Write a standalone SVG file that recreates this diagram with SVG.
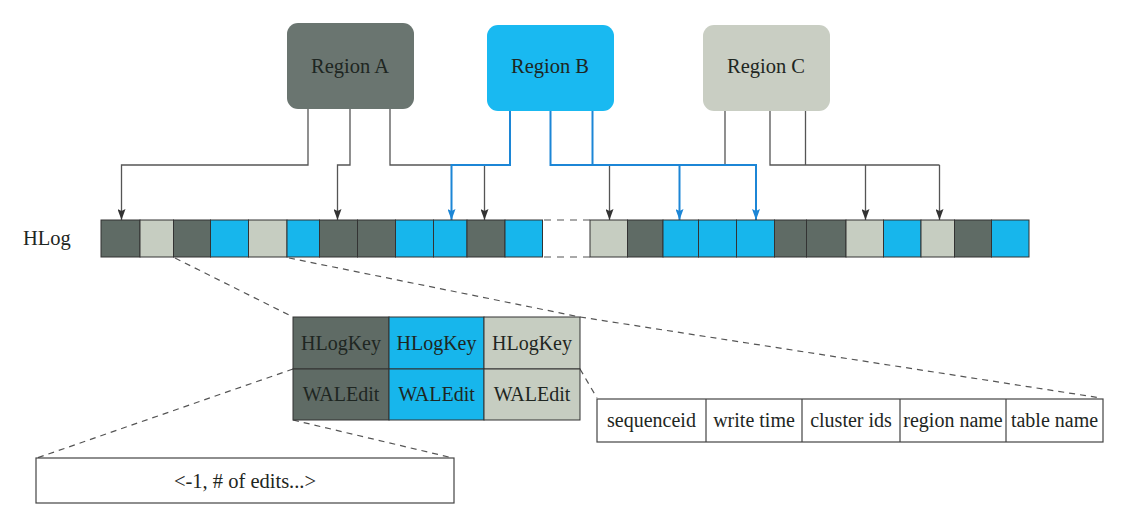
<svg xmlns="http://www.w3.org/2000/svg" width="1128" height="522" viewBox="0 0 1128 522">
<style>
text{font-family:"Liberation Serif","Times New Roman",serif;font-size:20px;fill:#1e2622}
.c{text-anchor:middle}
.big{font-size:20.5px}
.D{fill:#5f6b65}
.L{fill:#c6cdc1}
.B{fill:#17b6ec}
.cell{stroke:#333;stroke-width:1}
.g{fill:none;stroke:#555;stroke-width:1.3}
.b{fill:none;stroke:#1c86d6;stroke-width:2}
.dash{fill:none;stroke:#555;stroke-width:1.2;stroke-dasharray:6 5}
.box{fill:#fff;stroke:#444;stroke-width:1.2}
</style>
<defs>
<marker id="ab" markerUnits="userSpaceOnUse" markerWidth="8" markerHeight="12" refX="4" refY="11" viewBox="0 0 8 12"><path d="M0,0 L4,2 L8,0 L4,11 Z" fill="#1c86d6"/></marker>
<marker id="agd" markerUnits="userSpaceOnUse" markerWidth="8" markerHeight="12" refX="4" refY="11" viewBox="0 0 8 12"><path d="M0,0 L4,2 L8,0 L4,11 Z" fill="#333"/></marker>
</defs>

<g id="regionA"><rect x="287" y="23" width="127" height="86" rx="11" style="fill:#6a7570"/><text x="350" y="73" class="c big">Region A</text></g>
<g id="regionB"><rect x="487" y="25" width="127" height="86" rx="11" style="fill:#19b9f1"/><text x="550" y="73" class="c big">Region B</text></g>
<g id="regionC"><rect x="703" y="25" width="127" height="86" rx="11" style="fill:#c9cec3"/><text x="766" y="73" class="c big">Region C</text></g>

<g id="connectors">
<path class="g" d="M308,109 V165 H121.5 V220" marker-end="url(#agd)"/>
<path class="g" d="M350,109 V165 H337.5 V220" marker-end="url(#agd)"/>
<path class="g" d="M390,109 V165 H484.5 V220" marker-end="url(#agd)"/>
<path class="g" d="M725,111 V165 H609.5 V220" marker-end="url(#agd)"/>
<path class="g" d="M770,111 V165 H939.5"/>
<path class="g" d="M805.5,111 V165"/>
<path class="g" d="M865.5,165 V220" marker-end="url(#agd)"/>
<path class="g" d="M939.5,165 V220" marker-end="url(#agd)"/>
<path class="b" d="M510,111 V165 H451.5 V220" marker-end="url(#ab)"/>
<path class="b" d="M550.5,111 V165 H756 V220" marker-end="url(#ab)"/>
<path class="b" d="M592.5,111 V165"/>
<path class="b" d="M679.5,165 V220" marker-end="url(#ab)"/>
</g>

<g id="hlog">
<text x="23" y="245" class="big">HLog</text>
<g class="cell">
<rect x="101" y="220" width="39" height="37" class="D"/>
<rect x="140" y="220" width="33.5" height="37" class="L"/>
<rect x="173.5" y="220" width="37" height="37" class="D"/>
<rect x="210.5" y="220" width="38" height="37" class="B"/>
<rect x="248.5" y="220" width="38.5" height="37" class="L"/>
<rect x="287" y="220" width="32.5" height="37" class="B"/>
<rect x="319.5" y="220" width="38" height="37" class="D"/>
<rect x="357.5" y="220" width="38" height="37" class="D"/>
<rect x="395.5" y="220" width="38" height="37" class="B"/>
<rect x="433.5" y="220" width="33.5" height="37" class="B"/>
<rect x="467" y="220" width="38" height="37" class="D"/>
<rect x="505" y="220" width="37.5" height="37" class="B"/>
<rect x="590" y="220" width="37.5" height="37" class="L"/>
<rect x="627.5" y="220" width="35.5" height="37" class="D"/>
<rect x="663" y="220" width="35.5" height="37" class="B"/>
<rect x="698.5" y="220" width="38" height="37" class="B"/>
<rect x="736.5" y="220" width="38" height="37" class="B"/>
<rect x="774.5" y="220" width="32" height="37" class="D"/>
<rect x="806.5" y="220" width="39.5" height="37" class="D"/>
<rect x="846" y="220" width="37.5" height="37" class="L"/>
<rect x="883.5" y="220" width="37.5" height="37" class="B"/>
<rect x="921" y="220" width="33.5" height="37" class="L"/>
<rect x="954.5" y="220" width="37" height="37" class="D"/>
<rect x="991.5" y="220" width="37.5" height="37" class="B"/>
</g>
<path class="dash" d="M544,220 H590 M544,257 H590" style="stroke-dasharray:7 6"/>
</g>

<g id="zoomlines">
<path class="dash" d="M175,258 L293,317"/>
<path class="dash" d="M289,258 L580,317"/>
<path class="dash" d="M580,317 L1101,398"/>
<path class="dash" d="M580,369 L597,398"/>
<path class="dash" d="M293,369 L37,458"/>
<path class="dash" d="M293,420 L453,458"/>
</g>

<g id="entries" class="cell">
<rect x="293" y="317" width="96" height="52" class="D"/>
<rect x="389" y="317" width="95" height="52" class="B"/>
<rect x="484" y="317" width="96" height="52" class="L"/>
<rect x="293" y="369" width="96" height="51" class="D"/>
<rect x="389" y="369" width="95" height="51" class="B"/>
<rect x="484" y="369" width="96" height="51" class="L"/>
</g>
<g id="entryText">
<text x="341" y="350" class="c">HLogKey</text>
<text x="436.5" y="350" class="c">HLogKey</text>
<text x="532" y="350" class="c">HLogKey</text>
<text x="341" y="401" class="c">WALEdit</text>
<text x="436.5" y="401" class="c">WALEdit</text>
<text x="532" y="401" class="c">WALEdit</text>
</g>

<g id="keyFields">
<rect x="597" y="399" width="506" height="43" class="box"/>
<path d="M706,399 V442 M802,399 V442 M900,399 V442 M1006,399 V442" stroke="#444" stroke-width="1.2"/>
<text x="651.5" y="427" class="c">sequenceid</text>
<text x="754" y="427" class="c">write time</text>
<text x="851" y="427" class="c">cluster ids</text>
<text x="953" y="427" class="c">region name</text>
<text x="1054.5" y="427" class="c">table name</text>
</g>

<g id="editBox">
<rect x="36" y="458" width="418" height="45" class="box"/>
<text x="245" y="488" class="c big">&lt;-1, # of edits...&gt;</text>
</g>
</svg>
